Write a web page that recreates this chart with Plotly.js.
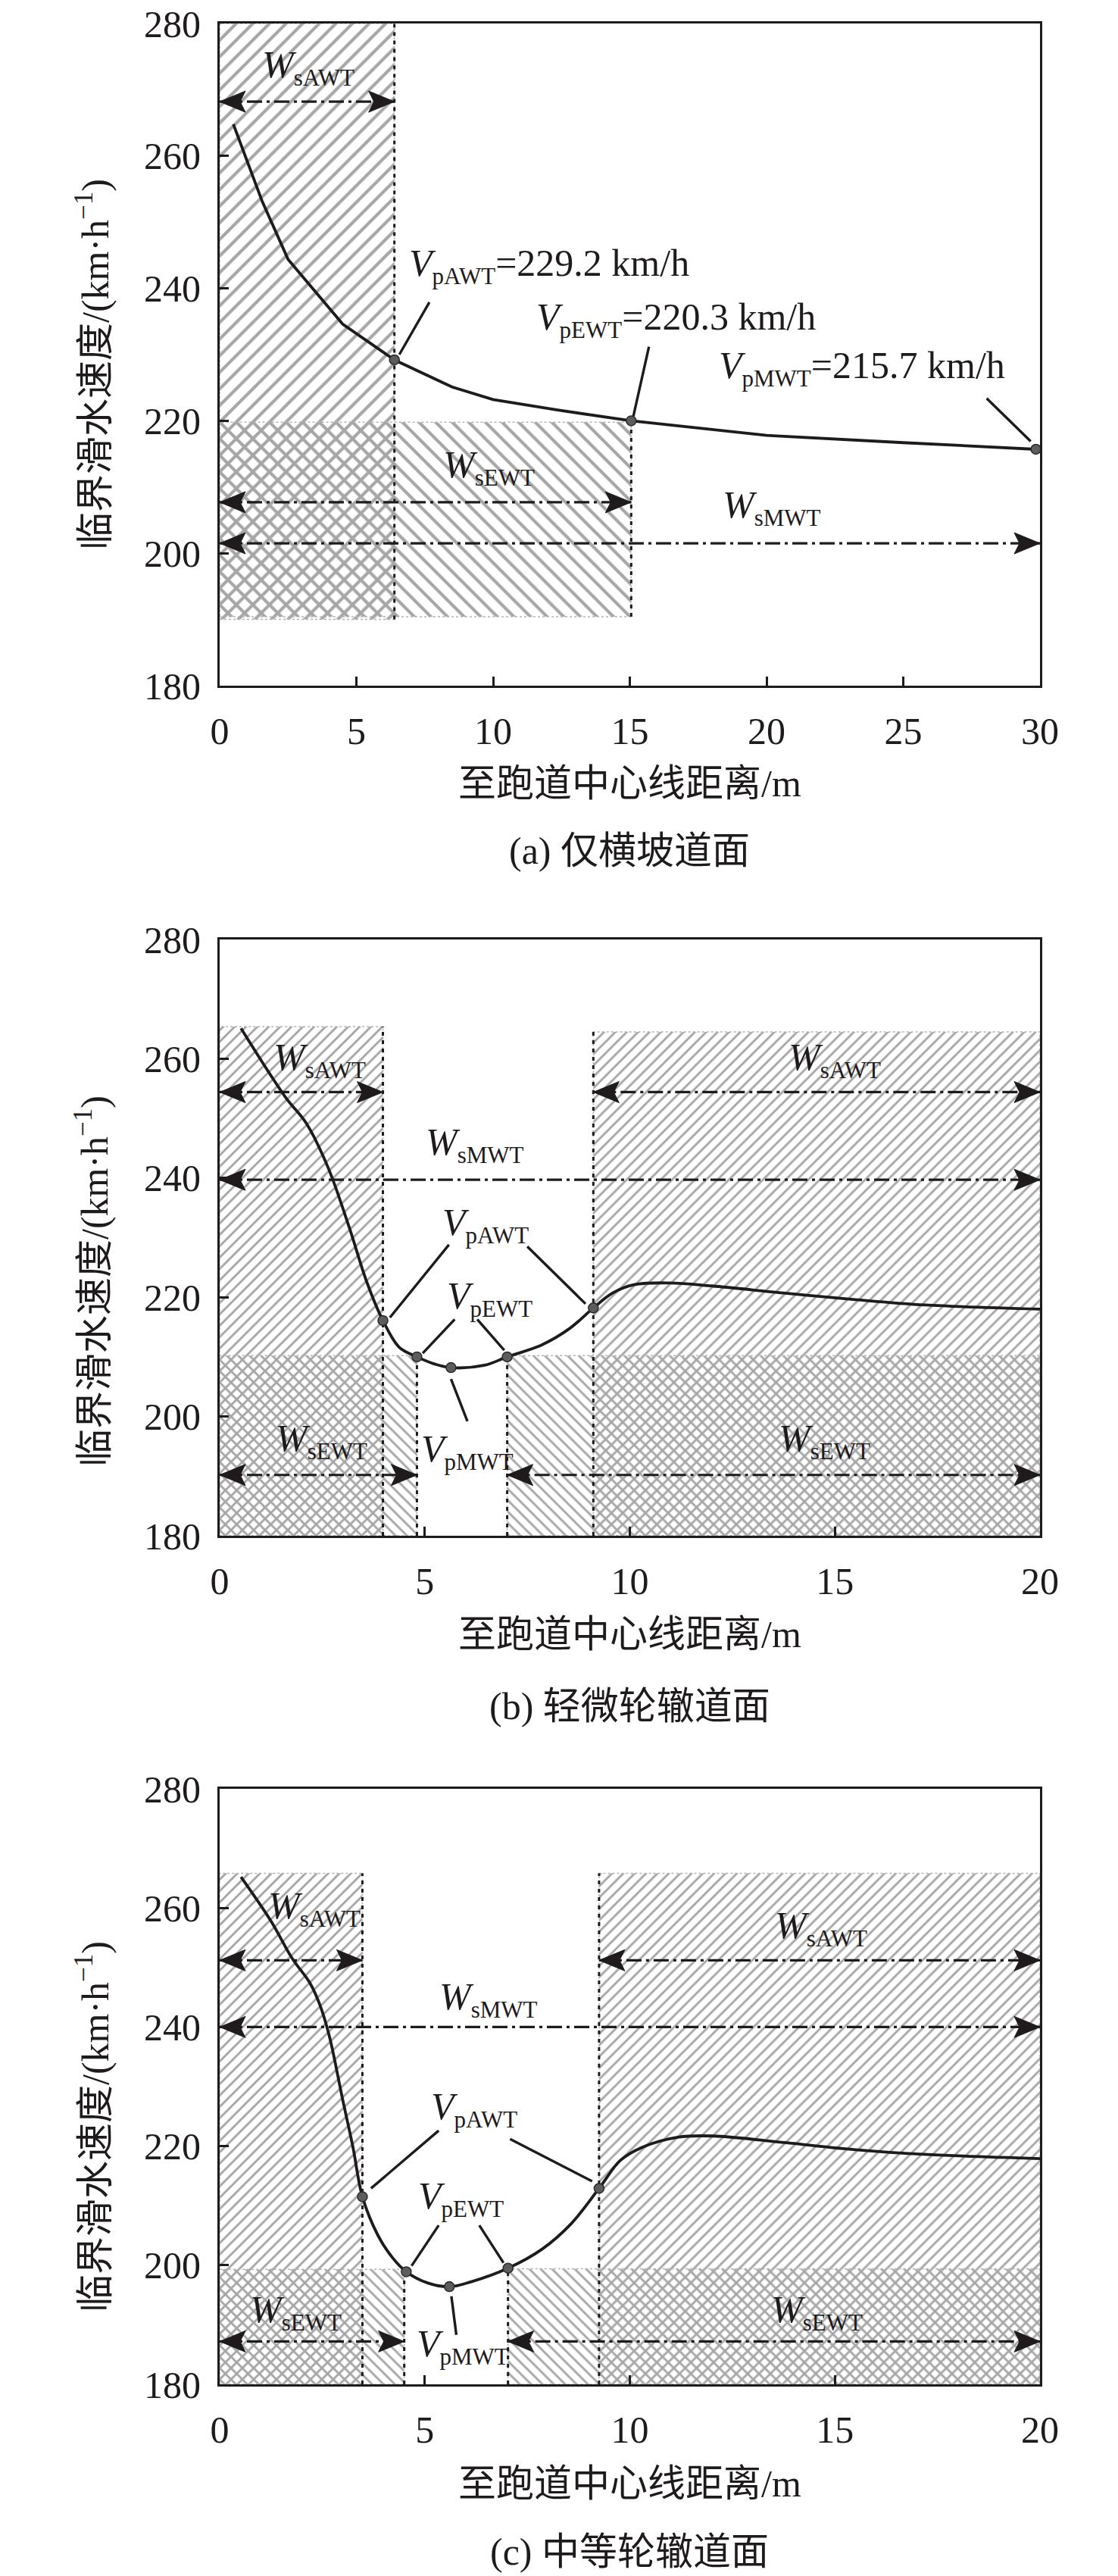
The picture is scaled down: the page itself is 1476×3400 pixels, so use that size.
<!DOCTYPE html>
<html><head><meta charset="utf-8">
<script src="https://cdn.plot.ly/plotly-3.0.1.min.js"></script>
<style>body{margin:0;background:#fff}#chart{width:1476px;height:3400px}</style>
</head><body><div id="chart"></div>
<script>
// ================= DATA =================
const xTicksA = [0, 5, 10, 15, 20, 25, 30];
const xTicksBC = [0, 5, 10, 15, 20];
const yTicks = [180, 200, 220, 240, 260, 280];
const captions = ['(a) 仅横坡道面', '(b) 轻微轮辙道面', '(c) 中等轮辙道面'];
const xTitle = '至跑道中心线距离/m';
const yTitle = '临界滑水速度/(km·h<sup>−1</sup>)';

// ---- panel (a) ----
const aCurveX = [0.5, 1.55, 2.5, 4.5, 6.39, 8.5, 10.0, 12.4, 15.05, 20, 25, 29.85];
const aCurveV = [264.8, 253.2, 244.4, 234.6, 229.2, 225.1, 223.2, 221.6, 220.0, 217.8, 216.7, 215.7];
const aPointX = [6.39, 15.05, 29.85];
const aPointV = [229.2, 220.0, 215.7];
const aRegX0 = [0, 0];
const aRegX1 = [6.39, 15.05];
const aRegY0 = [190, 190.4];
const aRegY1 = [280, 219.8];
const aRegHatch = ['/', '\\'];
const aDotX = [6.39, 15.05];
const aDotY0 = [190, 190.4];
const aDotY1 = [280, 219.8];
const aArrX0 = [0, 0, 0];
const aArrX1 = [6.39, 15.05, 30];
const aArrY = [268.2, 207.7, 201.5];
const aLabMain = ['W', 'W', 'W', 'V', 'V', 'V'];
const aLabSub = ['sAWT', 'sEWT', 'sMWT', 'pAWT', 'pEWT', 'pMWT'];
const aLabTail = ['', '', '', '=229.2 km/h', '=220.3 km/h', '=215.7 km/h'];
const aLabX = [3.23, 9.84, 20.2, 12.05, 16.7, 23.5];
const aLabY = [273.4, 213.0, 206.9, 243.4, 235.3, 228.0];
const aLeadX0 = [7.67, 15.7, 28.05];
const aLeadY0 = [237.9, 231.2, 223.4];
const aLeadX1 = [6.57, 15.13, 29.66];
const aLeadY1 = [230.0, 220.7, 216.9];

// ---- panel (b) ----
const bCurveX = [0.52, 1.6, 2.12, 2.64, 3.16, 3.59, 3.98, 4.38, 4.81, 5.24, 5.64, 6.46, 7.01, 7.85, 8.54, 9.11, 9.58, 10.1, 10.97, 12.0, 13.75, 15.5, 17.2, 20];
const bCurveV = [265.1, 253.6, 249.1, 241.8, 231.7, 222.5, 216.1, 211.6, 210.0, 208.8, 208.2, 208.6, 210.0, 212.0, 214.8, 218.2, 220.7, 222.1, 222.4, 221.9, 220.7, 219.6, 218.7, 218.0];
const bPointX = [3.98, 4.81, 5.64, 7.01, 9.11];
const bPointV = [216.1, 210.0, 208.2, 210.0, 218.2];
const bRegX0 = [0, 9.11, 0, 7.01];
const bRegX1 = [3.98, 20, 4.81, 20];
const bRegY0 = [180, 180, 180, 180];
const bRegY1 = [265.4, 264.5, 210.2, 210.2];
const bRegHatch = ['/', '/', '\\', '\\'];
const bDotX = [3.98, 4.81, 7.01, 9.11];
const bDotY0 = [180, 180, 180, 180];
const bDotY1 = [265.4, 210.2, 210.2, 264.5];
const bArrX0 = [0, 9.11, 0, 0, 7.01];
const bArrX1 = [3.98, 20, 20, 4.81, 20];
const bArrY = [254.4, 254.4, 239.7, 190.2, 190.2];
const bLabMain = ['W', 'W', 'W', 'W', 'W', 'V', 'V', 'V'];
const bLabSub = ['sAWT', 'sAWT', 'sMWT', 'sEWT', 'sEWT', 'pAWT', 'pEWT', 'pMWT'];
const bLabTail = ['', '', '', '', '', '', '', ''];
const bLabX = [2.43, 15.0, 6.23, 2.48, 14.74, 6.49, 6.58, 6.04];
const bLabY = [259.8, 259.8, 245.6, 196.0, 196.0, 232.1, 219.8, 194.2];
const bLeadX0 = [5.59, 7.5, 5.73, 6.28, 5.64];
const bLeadY0 = [228.8, 228.5, 216.3, 216.3, 206.3];
const bLeadX1 = [4.15, 8.92, 4.95, 6.94, 6.04];
const bLeadY1 = [216.6, 218.9, 210.6, 211.1, 199.2];

// ---- panel (c) ----
const cCurveX = [0.52, 1.25, 1.77, 2.2, 2.45, 2.68, 2.99, 3.25, 3.48, 3.86, 4.21, 4.55, 5.08, 5.6, 6.12, 7.03, 7.86, 8.56, 9.25, 9.77, 10.3, 11.17, 12.03, 13.77, 15.5, 17.25, 20];
const cCurveV = [265.2, 257.8, 251.5, 247.4, 243.6, 238.3, 228.1, 219.8, 211.5, 205.0, 201.3, 198.9, 197.0, 196.4, 197.2, 199.5, 202.7, 206.9, 212.9, 217.6, 219.8, 221.5, 221.7, 220.6, 219.4, 218.6, 217.9];
const cPointX = [3.48, 4.55, 5.6, 7.03, 9.25];
const cPointV = [211.5, 198.9, 196.4, 199.5, 212.9];
const cRegX0 = [0, 9.25, 0, 7.03];
const cRegX1 = [3.48, 20, 4.5, 20];
const cRegY0 = [180, 180, 180, 180];
const cRegY1 = [265.8, 265.8, 199.3, 199.4];
const cRegHatch = ['/', '/', '\\', '\\'];
const cDotX = [3.48, 4.5, 7.03, 9.25];
const cDotY0 = [180, 180, 180, 180];
const cDotY1 = [265.8, 199.3, 199.4, 265.8];
const cArrX0 = [0, 9.25, 0, 0, 7.03];
const cArrX1 = [3.48, 20, 20, 4.5, 20];
const cArrY = [251.2, 251.2, 240.0, 187.2, 187.2];
const cLabMain = ['W', 'W', 'W', 'W', 'W', 'V', 'V', 'V'];
const cLabSub = ['sAWT', 'sAWT', 'sMWT', 'sEWT', 'sEWT', 'pAWT', 'pEWT', 'pMWT'];
const cLabTail = ['', '', '', '', '', '', '', ''];
const cLabX = [2.3, 14.66, 6.56, 1.86, 14.56, 6.21, 5.88, 5.93];
const cLabY = [259.9, 256.6, 244.7, 192.2, 192.2, 226.3, 211.2, 186.4];
const cLeadX0 = [5.34, 7.08, 5.34, 6.33, 5.65];
const cLeadY0 = [222.6, 221.2, 206.7, 206.7, 194.8];
const cLeadX1 = [3.69, 9.08, 4.68, 6.92, 5.77];
const cLeadY1 = [212.9, 214.1, 199.9, 200.4, 188.3];

// ================= LAYOUT / STYLE =================
const W = 1476, H = 3400;
const plotL = 290, plotR = 1373;
const INK = '#1f1b1c';
const HATCH = '#a6a6a6';
const SERIF = 'Liberation Serif, Times New Roman, Noto Sans CJK SC, serif';
const MIXED = 'Liberation Serif, Noto Sans CJK SC, serif';
// barbed arrowhead outline in pixels (tip at origin, pointing +x)
const HEAD_PX = [[0, 0], [-34, -14], [-27, 0], [-34, 14], [0, 0]];

const panels = [
  {key: '', top: 31, bottom: 905, xr: [0, 30], xt: xTicksA, hatchSize: 15.5, hatchSol: 0.27,
   curve: [aCurveX, aCurveV], shape: 'linear', pts: [aPointX, aPointV],
   reg: [aRegX0, aRegX1, aRegY0, aRegY1, aRegHatch], dot: [aDotX, aDotY0, aDotY1],
   arr: [aArrX0, aArrX1, aArrY], lab: [aLabMain, aLabSub, aLabTail, aLabX, aLabY],
   lead: [aLeadX0, aLeadY0, aLeadX1, aLeadY1],
   yTitleC: 481, xTitleC: 1034, capC: 1123},
  {key: '2', top: 1240, bottom: 2027, xr: [0, 20], xt: xTicksBC, hatchSize: 10.6, hatchSol: 0.27,
   curve: [bCurveX, bCurveV], shape: 'spline', pts: [bPointX, bPointV],
   reg: [bRegX0, bRegX1, bRegY0, bRegY1, bRegHatch], dot: [bDotX, bDotY0, bDotY1],
   arr: [bArrX0, bArrX1, bArrY], lab: [bLabMain, bLabSub, bLabTail, bLabX, bLabY],
   lead: [bLeadX0, bLeadY0, bLeadX1, bLeadY1],
   yTitleC: 1691, xTitleC: 2157, capC: 2252},
  {key: '3', top: 2361, bottom: 3147, xr: [0, 20], xt: xTicksBC, hatchSize: 10.6, hatchSol: 0.27,
   curve: [cCurveX, cCurveV], shape: 'spline', pts: [cPointX, cPointV],
   reg: [cRegX0, cRegX1, cRegY0, cRegY1, cRegHatch], dot: [cDotX, cDotY0, cDotY1],
   arr: [cArrX0, cArrX1, cArrY], lab: [cLabMain, cLabSub, cLabTail, cLabX, cLabY],
   lead: [cLeadX0, cLeadY0, cLeadX1, cLeadY1],
   yTitleC: 2807, xTitleC: 3278, capC: 3368}
];

const traces = [];
const annotations = [];
const layout = {
  width: W, height: H, margin: {l: 0, r: 0, t: 0, b: 0},
  paper_bgcolor: '#fff', plot_bgcolor: 'rgba(0,0,0,0)', showlegend: false,
  font: {family: SERIF, color: INK, size: 50},
  annotations: annotations
};

function segs(x0, y0, x1, y1) {
  const X = [], Y = [];
  for (let i = 0; i < x0.length; i++) { X.push(x0[i], x1[i], null); Y.push(y0[i], y1[i], null); }
  return [X, Y];
}

panels.forEach((p, idx) => {
  const xa = 'x' + p.key, ya = 'y' + p.key;
  layout['xaxis' + p.key] = {
    domain: [plotL / W, plotR / W], range: p.xr, tickvals: p.xt, anchor: ya,
    ticks: 'inside', ticklen: 12, tickwidth: 3, tickcolor: INK,
    showline: true, linewidth: 3, linecolor: INK, mirror: true,
    showgrid: false, zeroline: false, ticklabelstandoff: 14,
    tickfont: {family: SERIF, size: 50, color: INK}, fixedrange: true
  };
  layout['yaxis' + p.key] = {
    domain: [1 - p.bottom / H, 1 - p.top / H], range: [180, 280], tickvals: yTicks, anchor: xa,
    ticks: 'inside', ticklen: 12, tickwidth: 3, tickcolor: INK,
    showline: true, linewidth: 3, linecolor: INK, mirror: true,
    showgrid: false, zeroline: false, ticklabelstandoff: 12,
    tickfont: {family: SERIF, size: 50, color: INK}, fixedrange: true
  };
  const kx = (plotR - plotL) / (p.xr[1] - p.xr[0]);   // px per x unit
  const ky = (p.bottom - p.top) / 100;                 // px per y unit

  // hatched regions
  const [rx0, rx1, ry0, ry1, rh] = p.reg;
  for (let i = 0; i < rx0.length; i++) {
    traces.push({
      type: 'scatter', mode: 'lines', xaxis: xa, yaxis: ya, hoverinfo: 'skip',
      x: [rx0[i], rx1[i], rx1[i], rx0[i], rx0[i]],
      y: [ry0[i], ry0[i], ry1[i], ry1[i], ry0[i]],
      fill: 'toself', fillcolor: 'rgba(0,0,0,0)',
      fillpattern: {shape: rh[i], size: p.hatchSize, solidity: p.hatchSol,
                    fgcolor: HATCH, bgcolor: 'rgba(0,0,0,0)', fillmode: 'replace'},
      line: {color: '#b5b5b5', width: 1.5, dash: '3px,3px'}
    });
  }
  // dotted vertical boundaries
  const [dx, dy0, dy1] = p.dot;
  const ds = segs(dx, dy0, dx, dy1);
  traces.push({type: 'scatter', mode: 'lines', xaxis: xa, yaxis: ya, hoverinfo: 'skip',
    x: ds[0], y: ds[1], line: {color: INK, width: 3, dash: '5px,6px'}});
  // dash-dot width arrows
  const [ax0, ax1, ay] = p.arr;
  const as = segs(ax0, ay, ax1, ay);
  traces.push({type: 'scatter', mode: 'lines', xaxis: xa, yaxis: ya, hoverinfo: 'skip',
    x: as[0], y: as[1], line: {color: INK, width: 3.2, dash: '20px,6px,4px,6px'}});
  // arrowheads at both ends
  const hX = [], hY = [];
  for (let i = 0; i < ax0.length; i++) {
    [[ax1[i], 1], [ax0[i], -1]].forEach(([tx, dir]) => {
      HEAD_PX.forEach(([u, v]) => { hX.push(tx + dir * u / kx); hY.push(ay[i] + v / ky); });
      hX.push(null); hY.push(null);
    });
  }
  traces.push({type: 'scatter', mode: 'lines', xaxis: xa, yaxis: ya, hoverinfo: 'skip',
    x: hX, y: hY, fill: 'toself', fillcolor: INK, line: {color: INK, width: 1}});
  // leader lines
  const [lx0, ly0, lx1, ly1] = p.lead;
  const ls = segs(lx0, ly0, lx1, ly1);
  traces.push({type: 'scatter', mode: 'lines', xaxis: xa, yaxis: ya, hoverinfo: 'skip',
    x: ls[0], y: ls[1], line: {color: INK, width: 3.4}});
  // curve
  traces.push({type: 'scatter', mode: 'lines', xaxis: xa, yaxis: ya, hoverinfo: 'skip',
    x: p.curve[0], y: p.curve[1],
    line: {color: INK, width: 3.8, shape: p.shape, smoothing: 1.0}});
  // characteristic points
  traces.push({type: 'scatter', mode: 'markers', xaxis: xa, yaxis: ya, hoverinfo: 'skip',
    x: p.pts[0], y: p.pts[1],
    marker: {size: 13, color: '#5c5c5c', line: {color: '#2a2a2a', width: 1.5}}});
  // labels
  const [lm, lsb, lt, lxx, lyy] = p.lab;
  for (let i = 0; i < lm.length; i++) {
    annotations.push({x: lxx[i], y: lyy[i], xref: xa, yref: ya, showarrow: false,
      xanchor: 'center', yanchor: 'middle',
      text: '<i>' + lm[i] + '</i><sub><span style="font-size:31px">' + lsb[i] + '</span></sub>' + lt[i],
      font: {family: SERIF, size: 50, color: INK}});
  }
  // titles
  annotations.push({xref: 'paper', yref: 'paper', x: 122 / W, y: 1 - p.yTitleC / H,
    xanchor: 'center', yanchor: 'middle', textangle: -90, showarrow: false,
    text: yTitle, font: {family: MIXED, size: 50, color: INK}});
  annotations.push({xref: 'paper', yref: 'paper', x: 832 / W, y: 1 - p.xTitleC / H,
    xanchor: 'center', yanchor: 'middle', showarrow: false,
    text: xTitle, font: {family: MIXED, size: 50, color: INK}});
  annotations.push({xref: 'paper', yref: 'paper', x: 831 / W, y: 1 - p.capC / H,
    xanchor: 'center', yanchor: 'middle', showarrow: false,
    text: captions[idx], font: {family: MIXED, size: 50, color: INK}});
});

Plotly.newPlot('chart', traces, layout, {displayModeBar: false, staticPlot: true});
</script>
</body></html>
